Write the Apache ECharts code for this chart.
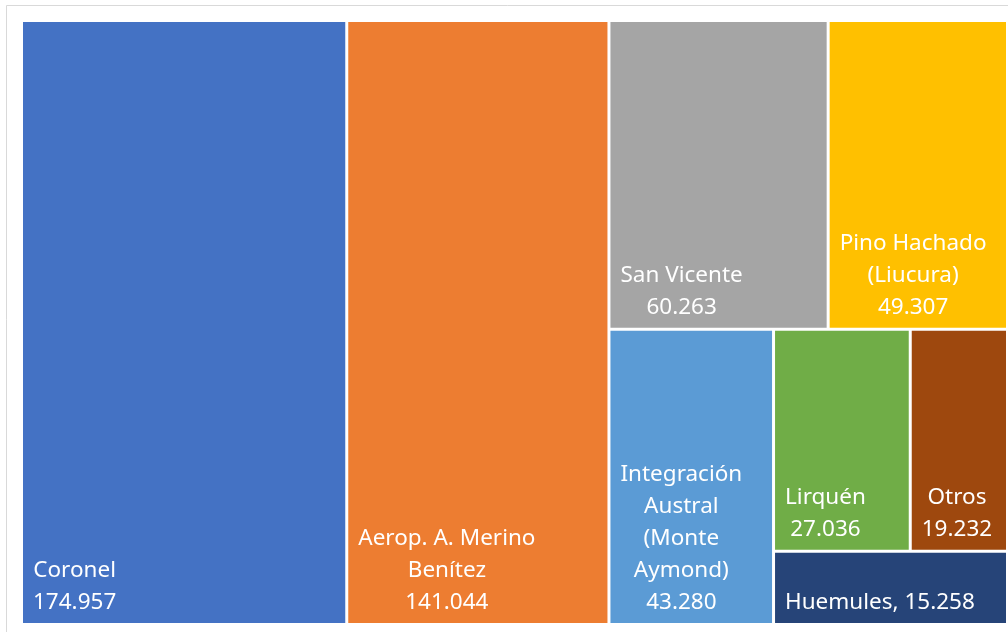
<!DOCTYPE html>
<html>
<head>
<meta charset="utf-8">
<script src="https://cdn.jsdelivr.net/npm/echarts@6/dist/echarts.min.js"></script>
<style>
  html, body { margin: 0; padding: 0; background: #fff; }
  #chart { width: 1008px; height: 632px; }
</style>
</head>
<body>
<div id="chart"></div>
<script>
// Toneladas por paso fronterizo / aduana
const names = ['Coronel', 'Aerop. A. Merino Benítez', 'San Vicente', 'Pino Hachado (Liucura)',
  'Integración Austral (Monte Aymond)', 'Lirquén', 'Otros', 'Huemules'];
const values = [174957, 141044, 60263, 49307, 43280, 27036, 19232, 15258];
// label text as wrapped in the original
const labelNames = ['Coronel', 'Aerop. A. Merino\nBenítez', 'San Vicente', 'Pino Hachado\n(Liucura)',
  'Integración\nAustral\n(Monte\nAymond)', 'Lirquén', 'Otros', 'Huemules'];
const labelSeps = ['\n', '\n', '\n', '\n', '\n', '\n', '\n', ', '];
const colors = ['#4472C4', '#ED7D31', '#A5A5A5', '#FFC000', '#5B9BD5', '#70AD47', '#9E480E', '#264478'];
// slice order of the spreadsheet treemap, as nested groups of indices
const groups = [0, 1, [2, 3, [4, [[5, 6], 7]]]];

const box = { left: 23, top: 22, width: 983, height: 601 };
const FONT = 'Noto Sans';
const FONT_SIZE = 22.5;
const LINE_H = 32;

const fmt = v => String(v).replace(/\B(?=(\d{3})+(?!\d))/g, '.');

function build(spec) {
  if (Array.isArray(spec)) {
    const children = spec.map(build);
    return {
      value: children.reduce((s, c) => s + c.value, 0),
      children,
      itemStyle: { color: '#fff' }
    };
  }
  return {
    name: names[spec],
    value: values[spec],
    itemStyle: { color: colors[spec] }
  };
}

const chart = echarts.init(document.getElementById('chart'), null, { renderer: 'canvas' });
const lvl = { itemStyle: { borderWidth: 0, gapWidth: 3, borderColor: '#fff' } };
const frame = {
  id: 'frame', type: 'rect', silent: true, z: -10,
  shape: { x: 6.5, y: 5.5, width: 1100, height: 700 },
  style: { fill: '#fff', stroke: '#d9d9d9', lineWidth: 1 }
};

chart.setOption({
  animation: false,
  graphic: [frame],
  series: [{
    type: 'treemap',
    left: box.left, top: box.top, width: box.width, height: box.height,
    roam: false,
    nodeClick: false,
    breadcrumb: { show: false },
    sort: false,
    squareRatio: 1,
    itemStyle: { borderWidth: 0, gapWidth: 3, borderColor: '#fff' },
    levels: [lvl, lvl, lvl, lvl, lvl, lvl],
    label: { show: false },
    upperLabel: { show: false },
    data: groups.map(build)
  }]
});

// Labels sit at the bottom-left of each cell with centred lines, as in the
// spreadsheet; the cell rectangles come from the treemap's own layout.
function placeLabels() {
  const series = chart.getModel().getSeriesByIndex(0);
  const root = series.getViewRoot();
  const texts = [];
  (function walk(node, ox, oy) {
    const lay = node.getLayout() || { x: 0, y: 0 };
    const x = ox + lay.x, y = oy + lay.y;
    if (node.children && node.children.length) {
      node.children.forEach(c => walk(c, x, y));
      return;
    }
    const i = names.indexOf(node.name);
    if (i < 0) return;
    const lines = (labelNames[i] + labelSeps[i] + fmt(values[i])).split('\n');
    texts.push({
      id: 'lbl' + i, type: 'text', silent: true, z: 10,
      style: {
        x: x + 10,
        y: y + lay.height - 4,
        text: lines.map(l => '{a|' + l + '}').join('\n'),
        align: 'left',
        verticalAlign: 'bottom',
        fill: '#fff',
        rich: { a: { align: 'center', fill: '#fff', fontFamily: FONT, fontSize: FONT_SIZE, lineHeight: LINE_H } }
      }
    });
  })(root, box.left, box.top);
  chart.setOption({ graphic: [frame].concat(texts) });
}
placeLabels();
</script>
</body>
</html>
